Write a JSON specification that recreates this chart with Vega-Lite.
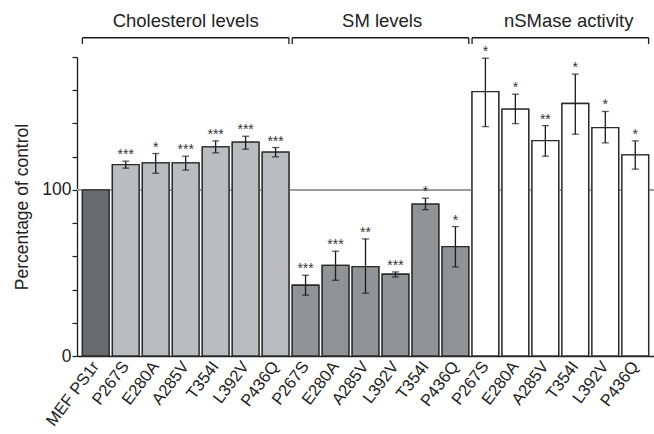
{
  "$schema": "https://vega.github.io/schema/vega-lite/v6.json",
  "width": 577,
  "height": 299,
  "autosize": {"type": "none"},
  "padding": {"left": 77, "top": 57, "right": 0, "bottom": 78},
  "background": "white",
  "config": {
    "view": {"stroke": null},
    "font": "Liberation Sans",
    "axis": {"grid": false, "domainColor": "#1a1a1a", "tickColor": "#1a1a1a", "labelColor": "#222222", "titleColor": "#222222", "labelFont": "Liberation Sans", "titleFont": "Liberation Sans"}
  },
  "datasets": {
    "bars": [
      {"id": "MEF PS1r", "group": "ctrl", "value": 100, "lo": null, "hi": null, "sig": ""},
      {"id": "c_P267S", "group": "chol", "value": 115.2, "lo": 113.1, "hi": 117.3, "sig": "***"},
      {"id": "c_E280A", "group": "chol", "value": 116.3, "lo": 110.0, "hi": 121.9, "sig": "*"},
      {"id": "c_A285V", "group": "chol", "value": 116.3, "lo": 111.9, "hi": 120.3, "sig": "***"},
      {"id": "c_T354I", "group": "chol", "value": 125.9, "lo": 122.3, "hi": 129.5, "sig": "***"},
      {"id": "c_L392V", "group": "chol", "value": 128.7, "lo": 124.5, "hi": 132.3, "sig": "***"},
      {"id": "c_P436Q", "group": "chol", "value": 122.7, "lo": 119.9, "hi": 125.5, "sig": "***"},
      {"id": "s_P267S", "group": "sm", "value": 42.6, "lo": 36.6, "hi": 48.6, "sig": "***"},
      {"id": "s_E280A", "group": "sm", "value": 54.6, "lo": 45.6, "hi": 63.1, "sig": "***"},
      {"id": "s_A285V", "group": "sm", "value": 53.8, "lo": 37.8, "hi": 70.5, "sig": "**"},
      {"id": "s_L392V", "group": "sm", "value": 49.2, "lo": 47.6, "hi": 50.6, "sig": "***"},
      {"id": "s_T354I", "group": "sm", "value": 91.4, "lo": 88.1, "hi": 95.0, "sig": "*"},
      {"id": "s_P436Q", "group": "sm", "value": 65.8, "lo": 53.6, "hi": 77.9, "sig": "*"},
      {"id": "n_P267S", "group": "nsm", "value": 159.2, "lo": 138.1, "hi": 179.3, "sig": "*"},
      {"id": "n_E280A", "group": "nsm", "value": 148.6, "lo": 139.9, "hi": 157.6, "sig": "*"},
      {"id": "n_A285V", "group": "nsm", "value": 129.7, "lo": 120.3, "hi": 138.7, "sig": "**"},
      {"id": "n_T354I", "group": "nsm", "value": 152.0, "lo": 133.5, "hi": 169.7, "sig": "*"},
      {"id": "n_L392V", "group": "nsm", "value": 137.5, "lo": 128.3, "hi": 147.2, "sig": "*"},
      {"id": "n_P436Q", "group": "nsm", "value": 121.1, "lo": 112.5, "hi": 129.5, "sig": "*"}
    ],
    "brackets": [
      {"label": "Cholesterol levels", "start": "MEF PS1r", "end": "c_P436Q", "mid": "c_A285V"},
      {"label": "SM levels", "start": "s_P267S", "end": "s_P436Q", "mid": "s_L392V"},
      {"label": "nSMase activity", "start": "n_P267S", "end": "n_P436Q", "mid": "n_T354I"}
    ]
  },
  "data": {"name": "bars"},
  "layer": [
    {
      "mark": {"type": "bar", "stroke": "#2a2a2a", "strokeWidth": 1.3},
      "encoding": {
        "x": {
          "field": "id", "type": "nominal", "title": null,
          "scale": {"domain": ["MEF PS1r", "c_P267S", "c_E280A", "c_A285V", "c_T354I", "c_L392V", "c_P436Q", "s_P267S", "s_E280A", "s_A285V", "s_L392V", "s_T354I", "s_P436Q", "n_P267S", "n_E280A", "n_A285V", "n_T354I", "n_L392V", "n_P436Q"], "paddingInner": 0.11, "paddingOuter": 0.18},
          "axis": {"ticks": false, "domainWidth": 1.3, "labelAngle": -53, "labelAlign": "right", "labelBaseline": "middle", "labelFontSize": 16.5, "labelPadding": 7, "labelExpr": "datum.label == 'MEF PS1r' ? datum.label : substring(datum.label, 2)"}
        },
        "y": {
          "field": "value", "type": "quantitative", "title": "Percentage of control",
          "scale": {"domain": [0, 180], "nice": false},
          "axis": {"titleFontSize": 17.5, "titleFontWeight": "normal", "titlePadding": 10, "values": [0, 20, 40, 60, 80, 100, 120, 140, 160, 180], "labelExpr": "datum.value == 0 || datum.value == 100 ? datum.label : ''", "labelFontSize": 17.5, "labelPadding": 1, "tickSize": 5, "tickWidth": 1.2, "domainWidth": 1.3}
        },
        "fill": {"field": "group", "type": "nominal", "scale": {"domain": ["ctrl", "chol", "sm", "nsm"], "range": ["#6a6b6f", "#bbbcc0", "#929397", "#ffffff"]}, "legend": null}
      }
    },
    {
      "mark": {"type": "rule", "color": "#9c9c9c", "strokeWidth": 1},
      "encoding": {
        "y": {"datum": 100, "type": "quantitative", "title": "Percentage of control",
          "axis": {"titleFontSize": 17.5, "titleFontWeight": "normal", "titlePadding": 10, "values": [0, 20, 40, 60, 80, 100, 120, 140, 160, 180], "labelExpr": "datum.value == 0 || datum.value == 100 ? datum.label : ''", "labelFontSize": 17.5, "labelPadding": 1, "tickSize": 5, "tickWidth": 1.2, "domainWidth": 1.3}}
      }
    },
    {
      "mark": {"type": "bar", "stroke": "#2a2a2a", "strokeWidth": 1.3},
      "encoding": {
        "x": {"field": "id", "type": "nominal", "title": null,
          "axis": {"ticks": false, "domainWidth": 1.3, "labelAngle": -53, "labelAlign": "right", "labelBaseline": "middle", "labelFontSize": 16.5, "labelPadding": 7, "labelExpr": "datum.label == 'MEF PS1r' ? datum.label : substring(datum.label, 2)"}},
        "y": {"field": "value", "type": "quantitative", "title": "Percentage of control",
          "axis": {"titleFontSize": 17.5, "titleFontWeight": "normal", "titlePadding": 10, "values": [0, 20, 40, 60, 80, 100, 120, 140, 160, 180], "labelExpr": "datum.value == 0 || datum.value == 100 ? datum.label : ''", "labelFontSize": 17.5, "labelPadding": 1, "tickSize": 5, "tickWidth": 1.2, "domainWidth": 1.3}},
        "fill": {"field": "group", "type": "nominal", "legend": null}
      }
    },
    {
      "mark": {"type": "rule", "color": "#1a1a1a", "strokeWidth": 1.3},
      "encoding": {
        "x": {"field": "id", "type": "nominal", "title": null,
          "axis": {"ticks": false, "domainWidth": 1.3, "labelAngle": -53, "labelAlign": "right", "labelBaseline": "middle", "labelFontSize": 16.5, "labelPadding": 7, "labelExpr": "datum.label == 'MEF PS1r' ? datum.label : substring(datum.label, 2)"}},
        "y": {"field": "lo", "type": "quantitative", "title": "Percentage of control",
          "axis": {"titleFontSize": 17.5, "titleFontWeight": "normal", "titlePadding": 10, "values": [0, 20, 40, 60, 80, 100, 120, 140, 160, 180], "labelExpr": "datum.value == 0 || datum.value == 100 ? datum.label : ''", "labelFontSize": 17.5, "labelPadding": 1, "tickSize": 5, "tickWidth": 1.2, "domainWidth": 1.3}},
        "y2": {"field": "hi"}
      }
    },
    {
      "mark": {"type": "tick", "color": "#1a1a1a", "size": 7, "thickness": 1.3, "orient": "horizontal"},
      "encoding": {
        "x": {"field": "id", "type": "nominal", "title": null,
          "axis": {"ticks": false, "domainWidth": 1.3, "labelAngle": -53, "labelAlign": "right", "labelBaseline": "middle", "labelFontSize": 16.5, "labelPadding": 7, "labelExpr": "datum.label == 'MEF PS1r' ? datum.label : substring(datum.label, 2)"}},
        "y": {"field": "lo", "type": "quantitative", "title": "Percentage of control",
          "axis": {"titleFontSize": 17.5, "titleFontWeight": "normal", "titlePadding": 10, "values": [0, 20, 40, 60, 80, 100, 120, 140, 160, 180], "labelExpr": "datum.value == 0 || datum.value == 100 ? datum.label : ''", "labelFontSize": 17.5, "labelPadding": 1, "tickSize": 5, "tickWidth": 1.2, "domainWidth": 1.3}}
      }
    },
    {
      "mark": {"type": "tick", "color": "#1a1a1a", "size": 7, "thickness": 1.3, "orient": "horizontal"},
      "encoding": {
        "x": {"field": "id", "type": "nominal", "title": null,
          "axis": {"ticks": false, "domainWidth": 1.3, "labelAngle": -53, "labelAlign": "right", "labelBaseline": "middle", "labelFontSize": 16.5, "labelPadding": 7, "labelExpr": "datum.label == 'MEF PS1r' ? datum.label : substring(datum.label, 2)"}},
        "y": {"field": "hi", "type": "quantitative", "title": "Percentage of control",
          "axis": {"titleFontSize": 17.5, "titleFontWeight": "normal", "titlePadding": 10, "values": [0, 20, 40, 60, 80, 100, 120, 140, 160, 180], "labelExpr": "datum.value == 0 || datum.value == 100 ? datum.label : ''", "labelFontSize": 17.5, "labelPadding": 1, "tickSize": 5, "tickWidth": 1.2, "domainWidth": 1.3}}
      }
    },
    {
      "mark": {"type": "text", "fontSize": 14, "color": "#333333", "baseline": "alphabetic", "dy": -2},
      "encoding": {
        "x": {"field": "id", "type": "nominal", "title": null,
          "axis": {"ticks": false, "domainWidth": 1.3, "labelAngle": -53, "labelAlign": "right", "labelBaseline": "middle", "labelFontSize": 16.5, "labelPadding": 7, "labelExpr": "datum.label == 'MEF PS1r' ? datum.label : substring(datum.label, 2)"}},
        "y": {"field": "hi", "type": "quantitative", "title": "Percentage of control",
          "axis": {"titleFontSize": 17.5, "titleFontWeight": "normal", "titlePadding": 10, "values": [0, 20, 40, 60, 80, 100, 120, 140, 160, 180], "labelExpr": "datum.value == 0 || datum.value == 100 ? datum.label : ''", "labelFontSize": 17.5, "labelPadding": 1, "tickSize": 5, "tickWidth": 1.2, "domainWidth": 1.3}},
        "text": {"field": "sig"}
      }
    },
    {
      "data": {"name": "brackets"},
      "mark": {"type": "rule", "color": "#1a1a1a", "strokeWidth": 1.3},
      "encoding": {
        "x": {"field": "start", "type": "nominal", "bandPosition": 0, "title": null,
          "axis": {"ticks": false, "domainWidth": 1.3, "labelAngle": -53, "labelAlign": "right", "labelBaseline": "middle", "labelFontSize": 16.5, "labelPadding": 7, "labelExpr": "datum.label == 'MEF PS1r' ? datum.label : substring(datum.label, 2)"}},
        "x2": {"field": "end", "bandPosition": 1},
        "y": {"datum": 191.6, "type": "quantitative", "title": "Percentage of control",
          "axis": {"titleFontSize": 17.5, "titleFontWeight": "normal", "titlePadding": 10, "values": [0, 20, 40, 60, 80, 100, 120, 140, 160, 180], "labelExpr": "datum.value == 0 || datum.value == 100 ? datum.label : ''", "labelFontSize": 17.5, "labelPadding": 1, "tickSize": 5, "tickWidth": 1.2, "domainWidth": 1.3}}
      }
    },
    {
      "data": {"name": "brackets"},
      "mark": {"type": "rule", "color": "#1a1a1a", "strokeWidth": 1.3},
      "encoding": {
        "x": {"field": "start", "type": "nominal", "bandPosition": 0, "title": null,
          "axis": {"ticks": false, "domainWidth": 1.3, "labelAngle": -53, "labelAlign": "right", "labelBaseline": "middle", "labelFontSize": 16.5, "labelPadding": 7, "labelExpr": "datum.label == 'MEF PS1r' ? datum.label : substring(datum.label, 2)"}},
        "y": {"datum": 187.8, "type": "quantitative", "title": "Percentage of control",
          "axis": {"titleFontSize": 17.5, "titleFontWeight": "normal", "titlePadding": 10, "values": [0, 20, 40, 60, 80, 100, 120, 140, 160, 180], "labelExpr": "datum.value == 0 || datum.value == 100 ? datum.label : ''", "labelFontSize": 17.5, "labelPadding": 1, "tickSize": 5, "tickWidth": 1.2, "domainWidth": 1.3}},
        "y2": {"datum": 191.6}
      }
    },
    {
      "data": {"name": "brackets"},
      "mark": {"type": "rule", "color": "#1a1a1a", "strokeWidth": 1.3},
      "encoding": {
        "x": {"field": "end", "type": "nominal", "bandPosition": 1, "title": null,
          "axis": {"ticks": false, "domainWidth": 1.3, "labelAngle": -53, "labelAlign": "right", "labelBaseline": "middle", "labelFontSize": 16.5, "labelPadding": 7, "labelExpr": "datum.label == 'MEF PS1r' ? datum.label : substring(datum.label, 2)"}},
        "y": {"datum": 187.8, "type": "quantitative", "title": "Percentage of control",
          "axis": {"titleFontSize": 17.5, "titleFontWeight": "normal", "titlePadding": 10, "values": [0, 20, 40, 60, 80, 100, 120, 140, 160, 180], "labelExpr": "datum.value == 0 || datum.value == 100 ? datum.label : ''", "labelFontSize": 17.5, "labelPadding": 1, "tickSize": 5, "tickWidth": 1.2, "domainWidth": 1.3}},
        "y2": {"datum": 191.6}
      }
    },
    {
      "data": {"name": "brackets"},
      "transform": [{"filter": "datum.label == 'Cholesterol levels'"}],
      "mark": {"type": "text", "fontSize": 18.5, "color": "#222222", "baseline": "alphabetic"},
      "encoding": {
        "x": {"field": "mid", "type": "nominal", "bandPosition": 0.5, "title": null,
          "axis": {"ticks": false, "domainWidth": 1.3, "labelAngle": -53, "labelAlign": "right", "labelBaseline": "middle", "labelFontSize": 16.5, "labelPadding": 7, "labelExpr": "datum.label == 'MEF PS1r' ? datum.label : substring(datum.label, 2)"}},
        "y": {"datum": 197.8, "type": "quantitative", "title": "Percentage of control",
          "axis": {"titleFontSize": 17.5, "titleFontWeight": "normal", "titlePadding": 10, "values": [0, 20, 40, 60, 80, 100, 120, 140, 160, 180], "labelExpr": "datum.value == 0 || datum.value == 100 ? datum.label : ''", "labelFontSize": 17.5, "labelPadding": 1, "tickSize": 5, "tickWidth": 1.2, "domainWidth": 1.3}},
        "text": {"field": "label"}
      }
    },
    {
      "data": {"name": "brackets"},
      "transform": [{"filter": "datum.label == 'SM levels'"}],
      "mark": {"type": "text", "fontSize": 18.5, "color": "#222222", "baseline": "alphabetic"},
      "encoding": {
        "x": {"field": "mid", "type": "nominal", "bandPosition": 0, "title": null,
          "axis": {"ticks": false, "domainWidth": 1.3, "labelAngle": -53, "labelAlign": "right", "labelBaseline": "middle", "labelFontSize": 16.5, "labelPadding": 7, "labelExpr": "datum.label == 'MEF PS1r' ? datum.label : substring(datum.label, 2)"}},
        "y": {"datum": 197.8, "type": "quantitative", "title": "Percentage of control",
          "axis": {"titleFontSize": 17.5, "titleFontWeight": "normal", "titlePadding": 10, "values": [0, 20, 40, 60, 80, 100, 120, 140, 160, 180], "labelExpr": "datum.value == 0 || datum.value == 100 ? datum.label : ''", "labelFontSize": 17.5, "labelPadding": 1, "tickSize": 5, "tickWidth": 1.2, "domainWidth": 1.3}},
        "text": {"field": "label"}
      }
    },
    {
      "data": {"name": "brackets"},
      "transform": [{"filter": "datum.label == 'nSMase activity'"}],
      "mark": {"type": "text", "fontSize": 18.5, "color": "#222222", "baseline": "alphabetic"},
      "encoding": {
        "x": {"field": "mid", "type": "nominal", "bandPosition": 0.25, "title": null,
          "axis": {"ticks": false, "domainWidth": 1.3, "labelAngle": -53, "labelAlign": "right", "labelBaseline": "middle", "labelFontSize": 16.5, "labelPadding": 7, "labelExpr": "datum.label == 'MEF PS1r' ? datum.label : substring(datum.label, 2)"}},
        "y": {"datum": 197.8, "type": "quantitative", "title": "Percentage of control",
          "axis": {"titleFontSize": 17.5, "titleFontWeight": "normal", "titlePadding": 10, "values": [0, 20, 40, 60, 80, 100, 120, 140, 160, 180], "labelExpr": "datum.value == 0 || datum.value == 100 ? datum.label : ''", "labelFontSize": 17.5, "labelPadding": 1, "tickSize": 5, "tickWidth": 1.2, "domainWidth": 1.3}},
        "text": {"field": "label"}
      }
    }
  ]
}
